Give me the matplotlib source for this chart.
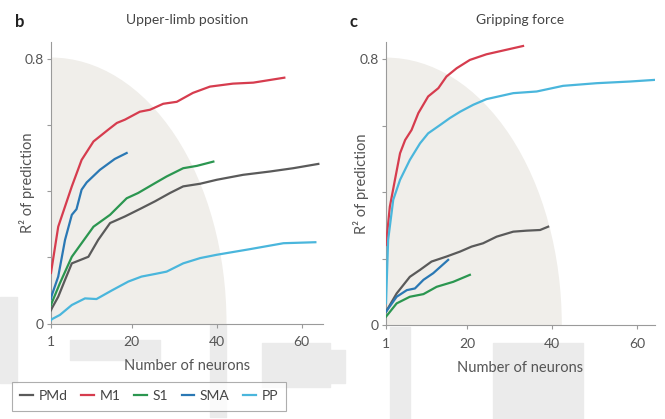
import matplotlib
matplotlib.use("Agg")
import matplotlib.pyplot as plt
from matplotlib.patches import Ellipse, Rectangle
from matplotlib.lines import Line2D

plt.rcParams['font.family'] = ['Lato', 'DejaVu Sans']

# panel b: upper-limb position
b_m1_x = [1, 1.2, 2.7, 5.9, 8.2, 11, 14.4, 16.5, 18.4, 21.9, 24.3, 27.4, 30.6, 34.4, 38.4, 43.8, 48.6, 55.9]
b_m1_y = [0.153, 0.17, 0.293, 0.415, 0.495, 0.551, 0.586, 0.607, 0.617, 0.641, 0.647, 0.665, 0.671, 0.698, 0.717, 0.726, 0.729, 0.744]
b_sma_x = [1, 1.2, 2.7, 4.3, 5.9, 7, 8.2, 9.4, 12.5, 16, 18.8]
b_sma_y = [0.075, 0.086, 0.142, 0.253, 0.329, 0.346, 0.405, 0.427, 0.465, 0.498, 0.516]
b_pmd_x = [1, 1.2, 2.7, 4.3, 5.9, 9.8, 12.1, 14.9, 18.4, 22.3, 25.5, 29, 32.1, 36.1, 40, 46.2, 52.5, 58, 63.9]
b_pmd_y = [0.04, 0.046, 0.081, 0.132, 0.182, 0.202, 0.253, 0.304, 0.324, 0.349, 0.370, 0.395, 0.415, 0.423, 0.435, 0.45, 0.46, 0.47, 0.483]
b_s1_x = [1, 1.2, 3.1, 5.9, 8.2, 11, 14.9, 18.8, 21.5, 25.5, 28.2, 32.1, 35.3, 39.2]
b_s1_y = [0.055, 0.063, 0.122, 0.202, 0.243, 0.293, 0.329, 0.379, 0.395, 0.425, 0.445, 0.47, 0.477, 0.49]
b_pp_x = [1, 1.2, 3.1, 5.9, 9, 11.7, 15.3, 19.2, 22.3, 25.5, 28.2, 32.1, 36.1, 40, 47.8, 55.7, 63.2]
b_pp_y = [0.01, 0.013, 0.026, 0.056, 0.076, 0.074, 0.10, 0.127, 0.142, 0.15, 0.157, 0.182, 0.198, 0.208, 0.225, 0.243, 0.246]

# panel c: gripping force
c_m1_x = [1, 1.9, 3.1, 4.3, 5.5, 7, 8.6, 10.9, 13.3, 15.2, 17.6, 20.7, 24.6, 33.2]
c_m1_y = [0.241, 0.356, 0.437, 0.517, 0.557, 0.587, 0.638, 0.688, 0.713, 0.748, 0.773, 0.798, 0.815, 0.84]
c_pp_x = [1, 1.5, 2.7, 4.3, 6.6, 9, 10.9, 13.7, 16, 18.4, 21.5, 24.6, 30.9, 36.4, 42.6, 50.5, 58.3, 64.2]
c_pp_y = [0.066, 0.256, 0.377, 0.437, 0.497, 0.547, 0.577, 0.602, 0.623, 0.642, 0.663, 0.68, 0.698, 0.703, 0.72, 0.728, 0.733, 0.738]
c_pmd_x = [1, 3.5, 6.6, 9, 11.7, 15.2, 18.4, 21.1, 23.8, 27, 30.9, 34, 37.2, 39.1]
c_pmd_y = [0.04, 0.095, 0.145, 0.166, 0.191, 0.206, 0.221, 0.236, 0.246, 0.266, 0.281, 0.284, 0.286, 0.296]
c_sma_x = [1, 3.5, 5.9, 7.8, 9.8, 12.1, 15.6]
c_sma_y = [0.04, 0.085, 0.105, 0.11, 0.136, 0.156, 0.196]
c_s1_x = [1, 3.5, 6.6, 9.8, 12.9, 16.8, 20.7]
c_s1_y = [0.025, 0.065, 0.085, 0.093, 0.115, 0.13, 0.151]

areas = ['PMd', 'M1', 'S1', 'SMA', 'PP']
colors = {'PMd': '#5a5a5a', 'M1': '#d63c4e', 'S1': '#2b9650', 'SMA': '#2a78b4', 'PP': '#4ab6dc'}

fig = plt.figure(figsize=(6.65, 4.19), dpi=100)

# faint grey blocks in the background of the original image
for (x0, y0, w, h) in [(0, 297, 17, 86), (70, 340, 90, 20), (210, 325, 16, 92),
                        (262, 343, 68, 44), (330, 350, 15, 33), (390, 327, 20, 92),
                        (493, 343, 90, 76)]:
    fig.patches.append(Rectangle((x0 / 665, 1 - (y0 + h) / 419), w / 665, h / 419,
                                 transform=fig.transFigure, color='#ebebeb', zorder=-5))

ax_b = fig.add_axes([51 / 665, 1 - 323.5 / 419, 272 / 665, 281.5 / 419])
ax_c = fig.add_axes([386 / 665, 1 - 325 / 419, 269 / 665, 283 / 419])

panels = [
    (ax_b, 'b', 'Upper-limb position', 65, 15, -0.058,
     {'PMd': (b_pmd_x, b_pmd_y), 'M1': (b_m1_x, b_m1_y), 'S1': (b_s1_x, b_s1_y),
      'SMA': (b_sma_x, b_sma_y), 'PP': (b_pp_x, b_pp_y)}),
    (ax_c, 'c', 'Gripping force', 64.2, 349, -0.062,
     {'PMd': (c_pmd_x, c_pmd_y), 'M1': (c_m1_x, c_m1_y), 'S1': (c_s1_x, c_s1_y),
      'SMA': (c_sma_x, c_sma_y), 'PP': (c_pp_x, c_pp_y)}),
]

for ax, letter, title, xmax, letter_x, ylab_x, series in panels:
    ax.set_zorder(1)
    ax.patch.set_alpha(0)
    ax.add_patch(Ellipse((1, 0), 2 * 41.3, 2 * 0.805, color='#f0eeea', zorder=0, lw=0))
    for name in areas:
        xs, ys = series[name]
        ax.plot(xs, ys, color=colors[name], lw=1.6, zorder=3)
    ax.set_xlim(1, xmax)
    ax.set_ylim(0, 0.852)
    ax.set_xticks([1, 20, 40, 60])
    ax.set_yticks([0, 0.2, 0.4, 0.6, 0.8])
    ax.set_yticklabels(['0', '', '', '', '0.8'])
    for s in ['top', 'right']:
        ax.spines[s].set_visible(False)
    for s in ['left', 'bottom']:
        ax.spines[s].set_color('#9a9a9a')
        ax.spines[s].set_linewidth(0.8)
    ax.tick_params(direction='out', length=3, width=0.8, color='#9a9a9a',
                   labelcolor='#555555', labelsize=10)
    ax.tick_params(axis='x', pad=6)
    ax.tick_params(axis='y', pad=2)
    ax.set_xlabel('Number of neurons', fontsize=10.5, color='#555555', labelpad=8)
    ax.set_ylabel('R² of prediction', fontsize=10.5, color='#555555')
    ax.yaxis.set_label_coords(ylab_x, 0.5)
    ax.set_title(title, fontsize=10, color='#444444', pad=13)
    fig.text(letter_x / 665, 1 - 22 / 419, letter, fontsize=12,
             fontweight='bold', color='#222222', va='center')

handles = [Line2D([0], [0], color=colors[n], lw=1.6) for n in areas]
leg = fig.legend(handles, areas, loc='upper left', bbox_to_anchor=(12 / 665, 1 - 382 / 419),
                 ncol=5, fontsize=10, frameon=True, fancybox=False, handlelength=0.9,
                 handletextpad=0.4, columnspacing=1.0, borderpad=0.6, borderaxespad=0,
                 labelcolor='#444444')
leg.get_frame().set_edgecolor('#9a9a9a')
leg.get_frame().set_linewidth(0.8)
leg.set_zorder(2)

fig.savefig('out.png', dpi=100)
